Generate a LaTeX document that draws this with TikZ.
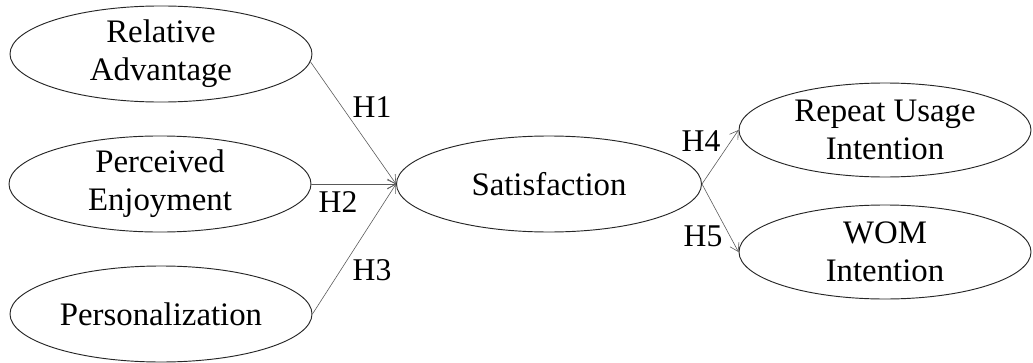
\documentclass[tikz,border=0pt]{standalone}
\usepackage{fontspec}
\setmainfont{Liberation Serif}
\usetikzlibrary{shapes.geometric,arrows.meta}
\begin{document}
\begin{tikzpicture}[x=0.03cm,y=-0.03cm, font=\fontsize{28}{32.5}\selectfont, line join=round,line cap=round,
	construct/.style={ellipse, draw=black!85, line width=0.8pt, inner sep=0pt, align=center, minimum width=9.06cm, minimum height=2.88cm},
	hypo/.style={-{Straight Barb[length=2.4mm,width=3mm]}, draw=black!65, line width=0.5pt},
	hlabel/.style={font=\fontsize{27}{29}\selectfont, inner sep=0pt}]
	\useasboundingbox (0,0) rectangle (1033,363);
	
	% --- Các biến tiền đề ---
	\node[construct] (ra) at (161,54) {Relative\\Advantage};
	\node[construct] (pe) at (160,184) {Perceived\\Enjoyment};
	\node[construct] (pz) at (161,314) {Personalization};
	
	% --- Biến trung gian và kết quả ---
	\node[construct, minimum width=9.15cm] (sat) at (549,184) {Satisfaction};
	\node[construct, minimum width=8.76cm, minimum height=2.82cm] (ru) at (885,130) {Repeat Usage\\Intention};
	\node[construct, minimum width=8.76cm, minimum height=2.82cm] (wom) at (885,252) {WOM\\Intention};
	
	% --- Các giả thuyết ---
	\draw[hypo] (ra.-3) -- (sat.west);
	\draw[hypo] (pe.east) -- (sat.west);
	\draw[hypo] (pz.east) -- (sat.west);
	\draw[hypo] (sat.east) -- (ru.west);
	\draw[hypo] (sat.east) -- (wom.west);
	
	\node[hlabel] (h1) at (372,107) {H1};
	\node[hlabel] (h2) at (338,202) {H2};
	\node[hlabel] (h3) at (372,270) {H3};
	\node[hlabel] (h4) at (701,141) {H4};
	\node[hlabel] (h5) at (703,236) {H5};
\end{tikzpicture}
\end{document}
